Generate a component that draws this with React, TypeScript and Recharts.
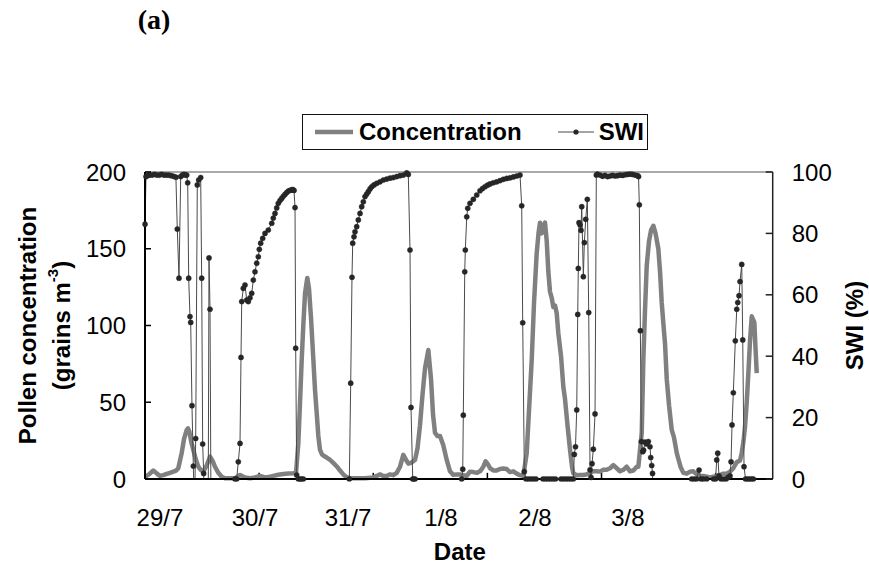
import React from 'react';
import { LineChart, Line, XAxis, YAxis, Legend, ReferenceLine } from 'recharts';

// x positions are hours since 29/7 00:00 (axis spans 0..132 h)
const xLabelHours = [3.15, 23.13, 42.69, 62.25, 82.02, 101.56];
const xTickLabels = ['29/7', '30/7', '31/7', '1/8', '2/8', '3/8'];
const xTickMarkHours = [24, 48, 72, 96, 120];
const concTicks = [0, 50, 100, 150, 200];
const swiTicks = [0, 20, 40, 60, 80, 100];

const concHours = [
  0, 0.84, 1.75, 2.52, 3.15, 3.85, 4.56, 5.26, 5.96, 6.52, 7.0, 7.36, 7.72, 8.2, 8.77, 9.04, 9.32, 9.74,
  10.16, 10.66, 11.21, 11.71, 12.26, 12.98, 13.67, 14.2, 14.72, 15.42, 16.13, 16.82, 17.88, 18.93, 19.98,
  21.03, 22.08, 23.13, 24.19, 25.24, 26.29, 26.98, 28.03, 29.08, 30.14, 31.19, 31.76, 32.24, 32.6, 32.96,
  33.29, 33.65, 34.13, 34.49, 34.91, 35.4, 35.75, 36.11, 36.45, 36.8, 37.22, 37.64, 38.21, 38.69, 39.26,
  39.75, 40.38, 41.01, 41.7, 42.42, 43.11, 44.16, 45.22, 46.27, 47.32, 47.95, 48.73, 49.42, 50.12, 50.83,
  51.52, 52.22, 52.93, 53.63, 54.32, 54.79, 55.38, 55.94, 56.78, 57.31, 57.83, 58.36, 58.88, 59.58, 60.15,
  60.57, 60.99, 61.51, 62.04, 62.73, 63.45, 64.14, 64.84, 65.55, 66.25, 66.94, 67.66, 68.35, 69.04, 69.76,
  70.45, 71.15, 71.61, 72.03, 72.56, 73.25, 73.96, 74.66, 75.35, 76.07, 76.76, 77.46, 78.17, 78.86, 79.56,
  80.27, 80.76, 81.33, 81.81, 82.37, 82.75, 83.07, 83.43, 83.7, 84.12, 84.48, 84.82, 85.17, 85.53, 85.87,
  86.23, 86.58, 86.92, 87.49, 87.97, 88.33, 88.85, 89.38, 89.8, 90.07, 90.79, 91.48, 92.18, 92.89, 93.59,
  94.28, 94.99, 95.69, 96.38, 97.09, 97.79, 98.49, 99.2, 99.9, 100.59, 101.3, 102, 102.69, 103.41, 103.75,
  104.1, 104.46, 104.8, 105.15, 105.51, 105.99, 106.41, 106.9, 107.36, 107.95, 108.31, 108.66, 109.04,
  109.36, 109.72, 110.2, 110.77, 111.25, 111.82, 112.16, 112.62, 113.21, 113.92, 114.62, 115.31, 116.03,
  116.72, 117.41, 118.13, 118.82, 119.52, 120.23, 120.93, 121.62, 122.33, 123.03, 123.72, 124.44, 125.13,
  125.49, 125.87, 126.18, 126.54, 126.88, 127.23, 127.59, 127.87, 128.14, 128.39, 128.64,
];
const concValues = [
  1.4, 3, 5.5, 3.5, 2, 2.5, 3.3, 4, 4.8, 5.5, 7, 12, 17, 26, 32, 33, 31, 24,
  19, 13, 8, 6, 4.8, 9, 14.6, 12, 8, 4, 1.5, 0.5, 0.5, 0.5, 2.6,
  1, 0.5, 1, 2, 1, 1.5, 2, 2.8, 3.3, 3.6, 3.7, 4, 23, 50, 78,
  100, 121, 131, 124, 105, 78, 58, 43, 28, 19, 16, 15, 14, 13, 11.5,
  10, 8, 5.5, 3, 1.2, 0.5, 0.5, 0.5, 0.5, 0.8, 1, 2, 3, 2, 2,
  3, 2.5, 4, 8, 15.7, 13, 10, 10.5, 12.4, 20, 35, 55, 72, 84, 65,
  42, 30, 28, 28, 22, 12.4, 5, 2.7, 3, 3, 2.5, 2, 4.8, 4.5, 4,
  5, 8, 11.5, 10, 7, 5.6, 5.6, 6.5, 6.8, 6.5, 4.5, 5, 3.5, 2.5, 2,
  16.8, 45, 78, 115, 147, 160, 167, 160, 164, 167, 155, 135, 122, 118, 112,
  113, 108, 95, 80, 60, 52, 35, 19, 8, 3.7, 2.5, 2.6, 2.6, 3, 4,
  5, 5, 4.8, 6, 6, 7, 9, 7, 5, 6, 8, 5, 5.5, 8, 8,
  19, 30, 78, 110, 139, 155, 162, 165, 160, 150, 135, 115, 100,
  88, 65, 48, 32, 27, 17, 13, 8, 4, 3.5, 4.8, 5, 3,
  2, 2, 1.5, 1, 1.5, 2, 2.6, 3.5, 3.5, 4.8, 7, 11, 12,
  17, 25, 34, 50, 69, 90, 106, 104, 102, 85, 69,
];

// SWI: null = no reading (line break); negative = reading below the axis (clipped)
const swiHours = [
  0, 0.21, 0.5, 1.0, 1.5, 2.0, 2.5, 3.0, 3.5, 4.0, 4.5, 5.0, 5.5, 6.0, 6.5, 6.79, 7.15, 7.51, 7.84, 8.2,
  8.52, 8.77, 8.98, 9.19, 9.46, 9.61, 9.88, 10.16, 10.41, 10.66, 11.0, 11.29, 11.71, 11.92, 12.13, 12.34,
  12.56, 12.8, 13.29, 13.46, 13.67, 13.88, 14.2,
  18.93, 19.28, 19.62, 19.98, 20.19, 20.34, 20.67, 21.03, 21.39, 21.72, 22.08, 22.44, 22.78, 23.13, 23.49,
  23.83, 24.04, 24.33, 24.75, 25.24, 25.93, 26.65, 26.98, 27.34, 27.7, 28.03, 28.39, 28.75, 29.08, 29.44,
  29.8, 30.14, 30.49, 30.85, 31.08, 31.34, 31.55, 31.69, 31.9, 32.25, 32.6, 32.95, 33.29, 33.6,
  42.97, 43.26, 43.53, 43.68, 43.95, 44.16, 44.52, 44.86, 45.22, 45.57, 45.91, 46.27, 46.62, 46.96, 47.32,
  47.68, 48.16, 48.73, 49.42, 50.12, 50.83, 51.52, 52.22, 52.93, 53.63, 54.32, 55.04, 55.37, 55.73, 55.94,
  56.3, 56.53, 56.78, 57.1,
  66.6, 66.82, 66.94, 67.24, 67.36, 67.66, 67.87, 68.35, 69.04, 69.76, 70.45, 70.98, 71.5, 72.03, 72.56,
  73.25, 73.96, 74.66, 75.35, 76.07, 76.76, 77.46, 78.17, 78.86, 79.22, 79.43, 79.77, 80.13, 80.65, 81.18,
  81.7, 82.23, 82.6, 83.7, 84.23, 84.75, 85.28, 85.81, 86.33, 86.65, 87.49, 88.01, 88.54, 89.06, 89.59,
  90.07, 90.28, 90.53, 90.79, 91.0, 91.12, 91.27, 91.48, 91.69, 91.84, 92.18, 92.39, 92.68, 93.02, 93.31,
  93.59, 93.8, 94.01, 94.28, 94.64, 94.91, 95.12, 95.69, 96.22, 96.74, 97.27, 97.79, 98.32, 98.84, 99.37,
  99.9, 100.42, 100.95, 101.47, 102.0, 102.52, 103.05, 103.58, 103.79, 103.95, 104.17, 104.38, 104.67,
  104.84, 105.15, 105.51, 105.85, 106.2, 106.35, 106.56, 106.73, 106.94, 107.2,
  114.97, 115.46, 115.98, 116.51, 116.93, 117.41, 118.13, 118.6, 119.56, 119.98, 120.23, 120.44, 120.71,
  121.14, 121.66, 122.19, 122.61, 123.03, 123.24, 123.45, 123.72, 124.14, 124.44, 124.65, 124.92, 125.13,
  125.49, 125.7, 125.97, 126.29, 126.71, 127.13, 127.55, 127.93,
];
const swiValues: (number | null)[] = [
  83, 98.5, 98.8, 99, 99, 99.2, 99, 99, 99.2, 99, 99, 99, 98.8, 98.6, 98.3, 81.4, 65.4, 98.5, 99, 99.2,
  99, 99, 96.5, 65.4, 52.9, 51, 23.9, 4.2, -10, 13.2, 95.8, 97.4, 98.2, 65.4, 11.4, 1.8,
  -10, null, -10, 72, 55.3, -10, null,
  0, 0, 5.6, 11.6, 39.6, 57.8, 62.1, 63.2, 58.3, 57.8, 59, 60.5, 64.8, 67.5, 70.3,
  72.4, 74.8, 76.8, 78.4, 80, 81.1, 83.3, 85, 86.5, 88.3, 89.8, 90.7, 91.4, 92.1, 92.7,
  93.3, 93.8, 94, 94.2, 94.3, 94, 88.4, 42.6, 1.3, 0, 0, 0, 0, null,
  0, 31.2, 65.7, 76.8, 78.9, 80.5, 82.2, 84.4, 86.5, 88.7, 90.3, 92, 92.8, 93.6, 94.5,
  95.2, 95.8, 96.3, 96.8, 97.4, 97.7, 98, 98.2, 98.5, 98.8, 99, 99.7, 99.2, 74.6, 23.3,
  0, 0, 0, null,
  0, 3.2, 20.8, 67.5, 74.6, 85.4, 88.2, 89.8, 91.1, 92.5, 93.9, 94.6, 95.2, 95.7, 96.1,
  96.5, 96.8, 97.2, 97.6, 97.9, 98.1, 98.4, 98.7, 99, 89, 50.9, 2.4, 0, 0, 0,
  0, 0, null, 0, 0, 0, 0, 0, 0, null, 0, 0, 0, 0, 0,
  0, 8, 10.5, 22.5, 53.6, 68.6, 83.5, 82.8, 81, 88.7, 65.9, 77, 84.6, 91.1, 54.2,
  3, 0.5, 5, 9.7, 21.2, 99, 99.3, 99, 98.6, 98.9, 98.5, 98.7, 98.9, 98.7, 98.8,
  99, 98.9, 99.1, 99.2, 99.3, 99.2, 99, 98.8, 98.5, 89.3, 48.3, 12.2, 8.9,
  9.4, 12, 11.4, 12.2, 10.5, 7, 4.4, 1.8, -10, null,
  0, 0, 0, 2.9, 0, 0, 0, null, 0, 0, 6.2, 8.4, 1,
  0, 0, 0, 0.5, 1, 5.6, 17.6, 28.1, 45, 55.3, 57.5, 59.7, 64.3,
  69.9, 45.3, 4, 0, 0, 0, 0, 0,
];

const concData = concHours.map((h, i) => ({ h, conc: concValues[i] }));
const swiData = swiHours.map((h, i) => ({ h, swi: swiValues[i] }));

const FONT = '"Liberation Sans", Arial, Helvetica, sans-serif';
const CONC_COLOR = '#808080';
const SWI_LINE = '#4a4a4a';
const SWI_DOT = '#262626';
const TICK_GAP = 19;

const LeftTick = (props: any) => {
  const { x, y, payload } = props;
  return (
    <g>
      <line x1={x + TICK_GAP} x2={x + TICK_GAP + 6} y1={y} y2={y} stroke="#000" strokeWidth={1.5} />
      <text x={x} y={y} dy="0.36em" textAnchor="end" fontSize={24} fontFamily={FONT} fill="#000">
        {payload.value}
      </text>
    </g>
  );
};

const RightTick = (props: any) => {
  const { x, y, payload } = props;
  return (
    <g>
      <line x1={x - TICK_GAP} x2={x - TICK_GAP - 7} y1={y} y2={y} stroke="#222" strokeWidth={1.5} />
      <text x={x} y={y} dy="0.36em" textAnchor="start" fontSize={24} fontFamily={FONT} fill="#000">
        {payload.value}
      </text>
    </g>
  );
};

const X_TICK_GAP = 30;
const BottomTick = (props: any) => {
  const { x, y, payload } = props;
  const idx = xLabelHours.indexOf(payload.value);
  return (
    <text x={x} y={y} dy="0.72em" textAnchor="middle" fontSize={24} fontFamily={FONT} fill="#000">
      {idx >= 0 ? xTickLabels[idx] : payload.value}
    </text>
  );
};

const LeftTitle = (props: any) => {
  const vb = props.viewBox || { x: 65, y: 172, width: 80, height: 307 };
  const cy = vb.y + vb.height / 2;
  const x1 = vb.x - 38;
  const x2 = vb.x - 4;
  return (
    <g fontFamily={FONT} fontWeight="bold" fontSize={24} fill="#000">
      <text x={x1} y={cy} transform={`rotate(-90 ${x1} ${cy})`} textAnchor="middle" dominantBaseline="central">
        Pollen concentration
      </text>
      <text x={x2} y={cy} transform={`rotate(-90 ${x2} ${cy})`} textAnchor="middle" dominantBaseline="central">
        (grains m<tspan dy={-9} fontSize={15}>-3</tspan><tspan dy={9}>)</tspan>
      </text>
    </g>
  );
};

const RightTitle = (props: any) => {
  const vb = props.viewBox || { x: 772.7, y: 172, width: 60, height: 307 };
  const cy = vb.y + vb.height / 2;
  const cx = vb.x + 82;
  return (
    <text x={cx} y={cy} transform={`rotate(-90 ${cx} ${cy})`} textAnchor="middle" dominantBaseline="central"
      fontFamily={FONT} fontWeight="bold" fontSize={24} fill="#000">
      SWI (%)
    </text>
  );
};

const BottomTitle = (props: any) => {
  const vb = props.viewBox || { x: 145, y: 479, width: 627.7, height: 60 };
  return (
    <text x={vb.x + vb.width / 2 + 1} y={vb.y + 72} dominantBaseline="central" textAnchor="middle"
      fontFamily={FONT} fontWeight="bold" fontSize={24} fill="#000">
      Date
    </text>
  );
};

const renderLegend = (props: any) => {
  const payload = props.payload || [];
  return (
    <div
      style={{
        display: 'inline-flex',
        alignItems: 'center',
        border: '1px solid #111',
        background: '#fff',
        height: 36,
        boxSizing: 'border-box',
        padding: '0 3px 0 12px',
        fontFamily: FONT,
        fontWeight: 'bold',
        fontSize: 24,
        color: '#000',
        whiteSpace: 'nowrap',
      }}
    >
      {payload.map((entry: any, i: number) => {
        const isConc = entry.dataKey === 'conc';
        return (
          <span key={i} style={{ display: 'inline-flex', alignItems: 'center', marginLeft: i === 0 ? 0 : 36 }}>
            {isConc ? (
              <svg width={38} height={10}>
                <line x1={0} x2={38} y1={5} y2={5} stroke={CONC_COLOR} strokeWidth={4.5} />
              </svg>
            ) : (
              <svg width={36} height={10}>
                <line x1={0} x2={36} y1={5} y2={5} stroke={SWI_LINE} strokeWidth={1} />
                <circle cx={18} cy={5} r={2.6} fill={SWI_DOT} />
              </svg>
            )}
            <span style={{ marginLeft: isConc ? 6 : 5 }}>{entry.value}</span>
          </span>
        );
      })}
    </div>
  );
};

export default function App() {
  return (
    <div style={{ position: 'absolute', left: 0, top: 0, width: 869, height: 572, background: '#fff', fontFamily: FONT }}>
      <div
        style={{
          position: 'absolute',
          left: 154,
          top: 4,
          transform: 'translateX(-50%)',
          fontFamily: '"Liberation Serif", "Times New Roman", serif',
          fontWeight: 'bold',
          fontSize: 28,
          lineHeight: '32px',
          color: '#000',
        }}
      >
        (a)
      </div>
      <LineChart
        width={869}
        height={572}
        margin={{ top: 172, right: 36.3, bottom: 33, left: 65 }}
      >
        <XAxis
          dataKey="h"
          type="number"
          domain={[0, 132]}
          ticks={xLabelHours}
          interval={0}
          height={60}
          tickSize={0}
          tickMargin={X_TICK_GAP}
          tick={<BottomTick />}
          axisLine={{ stroke: '#000', strokeWidth: 2 }}
          label={{ content: <BottomTitle /> }}
        />
        <YAxis
          yAxisId="left"
          orientation="left"
          type="number"
          domain={[0, 200]}
          ticks={concTicks}
          interval={0}
          width={80}
          tickSize={0}
          tickMargin={TICK_GAP}
          tick={<LeftTick />}
          axisLine={{ stroke: '#000', strokeWidth: 2 }}
          label={{ content: <LeftTitle /> }}
        />
        <YAxis
          yAxisId="right"
          orientation="right"
          type="number"
          domain={[0, 100]}
          allowDataOverflow
          ticks={swiTicks}
          interval={0}
          width={60}
          tickSize={0}
          tickMargin={TICK_GAP}
          tick={<RightTick />}
          axisLine={{ stroke: '#222', strokeWidth: 1.5 }}
          label={{ content: <RightTitle /> }}
        />
        <ReferenceLine yAxisId="left" y={200} stroke="#8c8c8c" strokeWidth={1.5} />
        {xTickMarkHours.map((h) => (
          <ReferenceLine
            key={`tm-${h}`}
            yAxisId="left"
            segment={[{ x: h, y: 0 }, { x: h, y: 4 }]}
            stroke="#000"
            strokeWidth={1.5}
          />
        ))}
        <Legend
          layout="horizontal"
          verticalAlign="middle"
          align="center"
          content={renderLegend}
          wrapperStyle={{ left: 302, top: 114, width: 420, height: 36 }}
        />
        <Line
          data={concData}
          yAxisId="left"
          dataKey="conc"
          name="Concentration"
          type="linear"
          stroke={CONC_COLOR}
          strokeWidth={4.5}
          strokeLinejoin="round"
          dot={false}
          activeDot={false}
          isAnimationActive={false}
        />
        <Line
          data={swiData}
          yAxisId="right"
          dataKey="swi"
          name="SWI"
          type="linear"
          stroke={SWI_LINE}
          strokeWidth={1}
          connectNulls={false}
          dot={{ r: 2.6, fill: SWI_DOT, stroke: SWI_DOT, strokeWidth: 0.4, clipDot: false }}
          activeDot={false}
          isAnimationActive={false}
        />
      </LineChart>
    </div>
  );
}
